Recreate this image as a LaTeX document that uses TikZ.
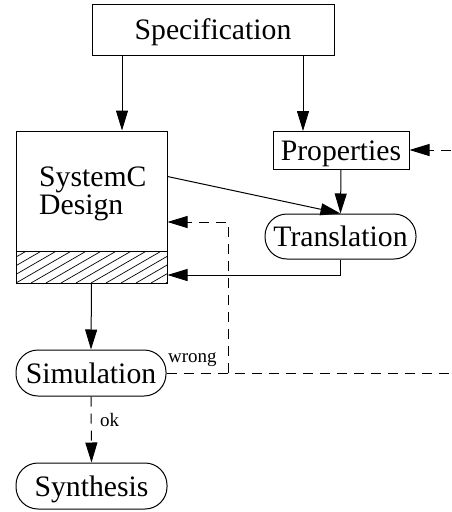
\documentclass[tikz,border=0pt]{standalone}
\usepackage{fontspec}
\setmainfont{Liberation Serif}
\usetikzlibrary{arrows.meta,calc}
\begin{document}
\begin{tikzpicture}[x=1pt,y=-1pt,
  big/.style={font=\fontsize{29.7}{34}\selectfont},
  box/.style={draw,line width=1pt,inner sep=0pt,big,text height=24pt,text depth=4pt},
  pill/.style={box,rounded corners=22pt},
  conn/.style={line width=1pt,-{Triangle[length=20pt,width=12pt]}},
  dline/.style={line width=1pt,dash pattern=on 10pt off 7pt},
  dconn/.style={conn,dash pattern=on 10pt off 7pt},
  small/.style={font=\fontsize{19}{22}\selectfont,inner sep=0pt}]
\useasboundingbox (0,0) rectangle (451,512);

\node[box,minimum width=242pt,minimum height=51pt] (spec) at (213,29.5) {Specification};
\node[box,minimum width=151pt,minimum height=152pt] (sysc) at (91.5,207) {};
\node[big,inner sep=0pt,anchor=base west] (sysct1) at (39,186) {SystemC};
\node[big,inner sep=0pt,anchor=base west] (sysct2) at (39,214) {Design};
\node[box,minimum width=136pt,minimum height=38pt] (props) at (341,150) {Properties};
\node[pill,minimum width=151pt,minimum height=45pt] (trans) at (340.5,236.5) {Translation};
\node[pill,minimum width=150pt,minimum height=46pt] (sim) at (91,373) {Simulation};
\node[pill,minimum width=151pt,minimum height=46pt] (synth) at (91.5,486) {Synthesis};

% hatched band
\begin{scope}
  \clip (16,251) rectangle (167,283);
  \foreach \i in {-4,...,11} \draw[line width=0.7pt] (16+\i*15,283) -- ++(70,-40.4);
\end{scope}
\draw[line width=1pt] (16,251) -- (167,251);

% coordinates
\coordinate (redge) at (451,373);
\coordinate (pedge) at (451,150);
\coordinate (jbot) at (228,373);
\coordinate (jtop) at (228,222);
\coordinate (tcorner) at (340.5,275);

% connectors
\draw[conn] (spec.south -| sysc.north) ++(30.5,0) -- ($(sysc.north)+(30.5,0)$);
\draw[conn] (spec.south -| 303,0) -- (303,131);
\draw[conn] (props.south) -- (trans.north);
\draw[conn] ($(sysc.north east)+(0,46)$) -- (trans.north);
\draw[conn] (trans.south) -- (tcorner) -- (tcorner -| sysc.east);
\draw[dconn] (pedge) -- (props.east);
\draw[dline] (sim.east) -- (redge);
\draw[dconn] (jbot) -- (jtop) -- (jtop -| sysc.east);
\draw[conn] (sysc.south) -- (sim.north);
\draw[dconn] (sim.south) -- (synth.north);

\node[small,anchor=base west] (wrong) at (168,362) {wrong};
\node[small,anchor=base west] (ok) at (100,426) {ok};
\end{tikzpicture}
\end{document}
